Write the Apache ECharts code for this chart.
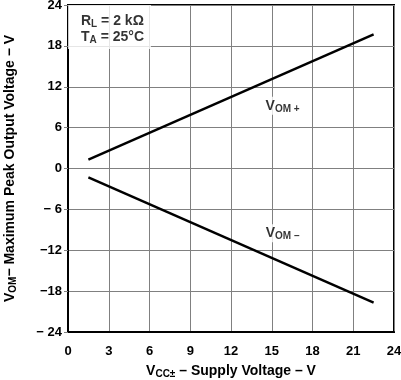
<!DOCTYPE html>
<html><head><meta charset="utf-8">
<script src="https://cdn.jsdelivr.net/npm/echarts@6/dist/echarts.min.js"></script>
<style>html,body{margin:0;padding:0;background:#fff}#c{width:401px;height:380px}</style>
</head><body><div id="c"></div>
<script>
var vomPlusX = [1.5, 22.5];
var vomPlusY = [1.3, 19.7];
var vomMinusX = [1.5, 22.5];
var vomMinusY = [-1.3, -19.7];
var xTicks = [0, 3, 6, 9, 12, 15, 18, 21, 24];
var yTickLabels = {'24':'24','18':'18','12':'12','6':'6','0':'0','-6':'− 6','-12':'−12','-18':'−18','-24':'− 24'};
var labelPlus = [15.8, 9.2];
var labelMinus = [15.8, -9.5];
var notePos = [0, 24];

var F = '"Liberation Sans", Arial, sans-serif';
var sub = {fontFamily: F, fontWeight: 'bold', fontSize: 10, color: '#000', padding: [6, 0, 0, 0]};
var main = {fontFamily: F, fontWeight: 'bold', fontSize: 14, color: '#000'};

var chart = echarts.init(document.getElementById('c'));
chart.setOption({
  animation: false,
  grid: {left: 68, right: 7, top: 5, bottom: 48, containLabel: false, outerBoundsMode: 'none',
    show: true, borderColor: '#000', borderWidth: 2, backgroundColor: 'transparent'},
  xAxis: {
    type: 'value', min: 0, max: 24, interval: 3,
    axisLine: {show: true, onZero: false, lineStyle: {color: '#000', width: 2}},
    axisTick: {show: false},
    splitLine: {show: true, lineStyle: {color: '#808080', width: 1}},
    axisLabel: {margin: 13, fontFamily: F, fontWeight: 'bold', fontSize: 13, color: '#000'},
    name: '{m|V}{s|CC±}{m| – Supply Voltage – V}',
    nameLocation: 'middle', nameGap: 31,
    nameTextStyle: {rich: {m: main, s: sub}}
  },
  yAxis: {
    type: 'value', min: -24, max: 24, interval: 6,
    axisLine: {show: true, onZero: false, lineStyle: {color: '#000', width: 2}},
    axisTick: {show: true, length: 4, lineStyle: {color: '#808080'}},
    splitLine: {show: true, lineStyle: {color: '#808080', width: 1}},
    axisLabel: {margin: 6, fontFamily: F, fontWeight: 'bold', fontSize: 13, color: '#000',
      formatter: function (v) { return yTickLabels[String(v)]; }},
    name: '{m|V}{s|OM}{m|− Maximum Peak Output Voltage − V}',
    nameLocation: 'middle', nameGap: 50,
    nameTextStyle: {rich: {m: main, s: sub}}
  },
  series: [
    {type: 'line', data: vomPlusX.map(function (x, i) { return [x, vomPlusY[i]]; }),
     symbol: 'none', lineStyle: {color: '#000', width: 2.5}, z: 3},
    {type: 'line', data: vomMinusX.map(function (x, i) { return [x, vomMinusY[i]]; }),
     symbol: 'none', lineStyle: {color: '#000', width: 2.5}, z: 3},
    {type: 'scatter', symbolSize: 0, z: 5,
     data: [
       {value: labelPlus, label: {formatter: '{m|V}{s|OM +}'}},
       {value: labelMinus, label: {formatter: '{m|V}{s|OM –}'}}
     ],
     label: {show: true, position: 'inside', backgroundColor: '#fff', padding: [1, 2, 1, 2],
       rich: {m: main, s: sub}}
    },
    {type: 'scatter', symbolSize: 0, z: 5,
     data: [{value: notePos}],
     label: {show: true, position: 'inside', align: 'left', verticalAlign: 'top',
       backgroundColor: '#fff', padding: [8, 7, 4, 13], lineHeight: 16,
       formatter: '{m|R}{s|L}{m| = 2 kΩ}\n{m|T}{s|A}{m| = 25°C}',
       rich: {m: {fontFamily: F, fontWeight: 'bold', fontSize: 14, color: '#000', lineHeight: 16},
              s: {fontFamily: F, fontWeight: 'bold', fontSize: 10, color: '#000', lineHeight: 16, padding: [6, 0, 0, 0]}}}
    }
  ]
});
</script></body></html>
